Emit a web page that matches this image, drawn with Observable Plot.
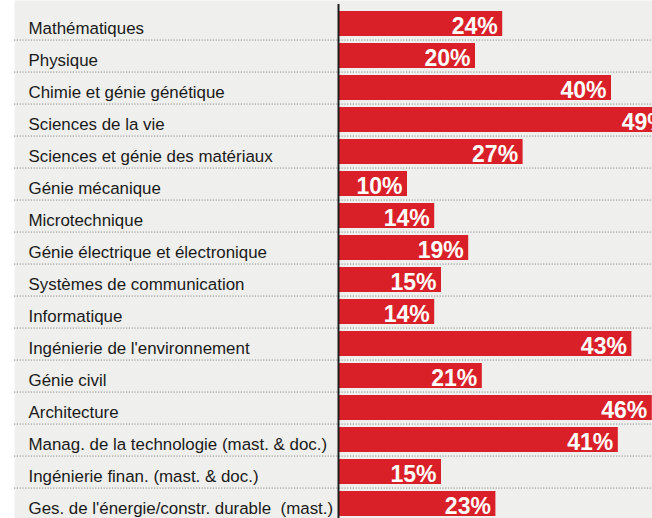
<!DOCTYPE html>
<html>
<head>
<meta charset="utf-8">
<script src="https://cdn.jsdelivr.net/npm/d3@7"></script>
<script src="https://cdn.jsdelivr.net/npm/@observablehq/plot@0.6"></script>
<style>
  html, body { margin: 0; padding: 0; background: #ffffff; overflow: hidden; }
  #chart svg text { white-space: pre; }
</style>
</head>
<body>
<div id="chart"></div>
<script>
const categories = [
  "Mathématiques",
  "Physique",
  "Chimie et génie génétique",
  "Sciences de la vie",
  "Sciences et génie des matériaux",
  "Génie mécanique",
  "Microtechnique",
  "Génie électrique et électronique",
  "Systèmes de communication",
  "Informatique",
  "Ingénierie de l'environnement",
  "Génie civil",
  "Architecture",
  "Manag. de la technologie (mast. & doc.)",
  "Ingénierie finan. (mast. & doc.)",
  "Ges. de l'énergie/constr. durable  (mast.)"
];
const values = [24, 20, 40, 49, 27, 10, 14, 19, 15, 14, 43, 21, 46, 41, 15, 23];
const labels = ["24%", "20%", "40%", "49%", "27%", "10%", "14%", "19%", "15%", "14%", "43%", "21%", "46%", "41%", "15%", "23%"];

const data = categories.map((c, i) => ({category: c, value: values[i], label: labels[i]}));

const W = 652, H = 518;
const step = 32.14;
const y0 = 6.43;
const pxPerUnit = 6.8;
const x0 = 339;
const xMax = (W - x0) / pxPerUnit;

const chart = Plot.plot({
  width: W,
  height: H,
  marginLeft: 14,
  marginRight: 0,
  marginTop: 0,
  marginBottom: 0,
  style: {background: "#ffffff", overflow: "hidden"},
  x: {domain: [0, xMax], range: [x0, W], axis: null},
  y: {domain: categories, range: [y0, y0 + step * categories.length], paddingInner: 0.22, paddingOuter: 0.11, axis: null},
  marks: [
    Plot.frame({fill: "#efefed", stroke: null}),
    Plot.ruleY(data.slice(0, -1), {y: "category", dy: step / 2, stroke: "#8c8c8c", strokeWidth: 1, strokeDasharray: "1.2,1.6"}),
    Plot.barX(data, {x1: 0, x2: "value", y: "category", fill: "#d92028"}),
    Plot.ruleX([0], {dx: -1, stroke: "#1e1e1e", strokeWidth: 2, insetTop: 4}),
    Plot.text(data, {
      y: "category", text: "category", frameAnchor: "left", dx: 14,
      textAnchor: "start", lineAnchor: "middle", dy: 4.4,
      fill: "#1a1a1a", fontSize: 16.9, fontFamily: "Liberation Sans Narrow, Arial Narrow, sans-serif"
    }),
    Plot.text(data, {
      x: "value", y: "category", text: "label",
      textAnchor: "end", lineAnchor: "middle", dx: -5, dy: 2.4,
      fill: "#ffffff", fontSize: 23, fontWeight: "bold", fontFamily: "Liberation Sans, Arial, sans-serif"
    })
  ]
});
document.getElementById("chart").appendChild(chart);
</script>
</body>
</html>
